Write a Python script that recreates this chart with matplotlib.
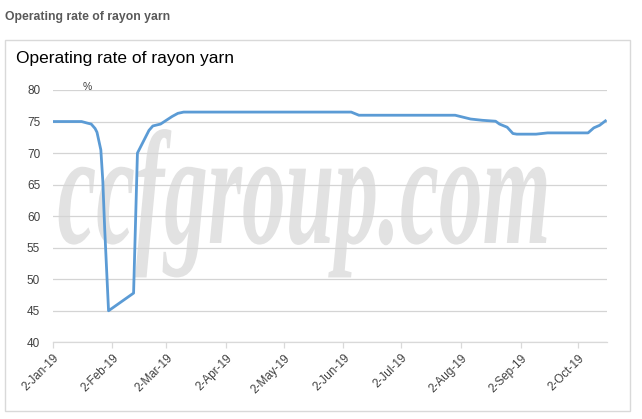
import matplotlib
matplotlib.use("Agg")
import matplotlib.pyplot as plt
from matplotlib.patches import Rectangle
from matplotlib.patheffects import AbstractPathEffect
from matplotlib.transforms import Affine2D
import pandas as pd

# ---- data ----
dates = ["2019-01-02", "2019-01-17", "2019-01-20", "2019-01-22", "2019-01-24", "2019-01-25",
         "2019-01-27", "2019-01-28", "2019-01-29", "2019-01-31", "2019-02-13", "2019-02-15",
         "2019-02-18", "2019-02-21", "2019-02-23", "2019-02-27", "2019-03-01", "2019-03-05",
         "2019-03-08", "2019-03-11", "2019-06-06", "2019-06-10", "2019-07-30", "2019-08-07",
         "2019-08-13", "2019-08-20", "2019-08-22", "2019-08-26", "2019-08-29", "2019-08-31",
         "2019-09-10", "2019-09-16", "2019-10-07", "2019-10-10", "2019-10-13", "2019-10-16"]
values = [75.0, 75.0, 74.75, 74.6, 73.9, 73.3,
          70.5, 65.7, 58.0, 45.0, 47.8, 70.0,
          71.8, 73.6, 74.3, 74.6, 75.0, 75.8,
          76.3, 76.5, 76.5, 76.0, 76.0, 75.4,
          75.2, 75.05, 74.6, 74.1, 73.1, 73.0,
          73.0, 73.2, 73.2, 74.0, 74.4, 75.1]
tick_dates = ["2019-01-02", "2019-02-02", "2019-03-02", "2019-04-02", "2019-05-02",
              "2019-06-02", "2019-07-02", "2019-08-02", "2019-09-02", "2019-10-02"]
tick_labels = ["2-Jan-19", "2-Feb-19", "2-Mar-19", "2-Apr-19", "2-May-19",
               "2-Jun-19", "2-Jul-19", "2-Aug-19", "2-Sep-19", "2-Oct-19"]
y_ticks = [40, 45, 50, 55, 60, 65, 70, 75, 80]
title = "Operating rate of rayon yarn"
unit = "%"
watermark = "ccfgroup.com"

W, H = 642, 419
fig = plt.figure(figsize=(W / 100, H / 100), dpi=100)
fig.patch.set_facecolor("white")

# outer frame
fig.patches.append(Rectangle((5 / W, 1 - 411 / H), 625 / W, 371 / H, transform=fig.transFigure,
                             fill=False, edgecolor="#d9d9d9", linewidth=1.0))

fig.text(5 / W, 1 - 17 / H, title, fontsize=8.8, fontweight="bold", color="#595959",
         family="Liberation Sans", va="center", ha="left")
fig.text(16 / W, 1 - 58 / H, title, fontsize=12.5, color="#000000",
         family="Liberation Sans", va="center", ha="left")

ax = fig.add_axes([52.7 / W, 1 - 342.3 / H, (607.3 - 52.7) / W, (342.3 - 90) / H])
ax.set_facecolor("none")

x = pd.to_datetime(dates)
ax.plot(x, values, color="#5B9BD5", linewidth=2.0, solid_joinstyle="round", zorder=3)

ax.set_ylim(40, 80)
ax.set_yticks(y_ticks)
ax.set_xlim(pd.Timestamp("2019-01-02"), pd.Timestamp("2019-10-17"))
ax.set_xticks(pd.to_datetime(tick_dates))
ax.set_xticklabels(tick_labels, rotation=45, ha="right", rotation_mode="anchor")

ax.grid(axis="y", color="#d4d4d4", linewidth=0.9, zorder=0)
ax.set_axisbelow(True)
for s in ["top", "right", "left"]:
    ax.spines[s].set_visible(False)
ax.spines["bottom"].set_color("#d9d9d9")
ax.spines["bottom"].set_linewidth(0.9)
ax.tick_params(axis="y", length=0, pad=9, labelsize=8.5, labelcolor="#404040")
ax.tick_params(axis="x", length=4, width=0.9, color="#d9d9d9", pad=3, labelsize=8.5,
               labelcolor="#404040")
for lab in ax.get_xticklabels() + ax.get_yticklabels():
    lab.set_family("Liberation Sans")

fig.text(87 / W, 1 - 87 / H, unit, fontsize=7.5, color="#404040", family="Liberation Sans",
         ha="center", va="center")


class VStretch(AbstractPathEffect):
    def __init__(self, sy):
        super().__init__()
        self.sy = sy

    def draw_path(self, renderer, gc, tpath, affine, rgbFace=None):
        renderer.draw_path(gc, tpath, Affine2D().scale(1, self.sy) + affine, rgbFace)


wm = ax.text(304 / W, 1 - 243 / H, watermark, fontsize=63, fontstyle="italic",
             fontweight="bold", family="Liberation Serif", color="#e2e2e2", ha="center",
             va="baseline", transform=fig.transFigure, clip_on=False, zorder=0.2)
wm.set_path_effects([VStretch(1.85)])

fig.savefig("out.png", dpi=100, facecolor="white")
